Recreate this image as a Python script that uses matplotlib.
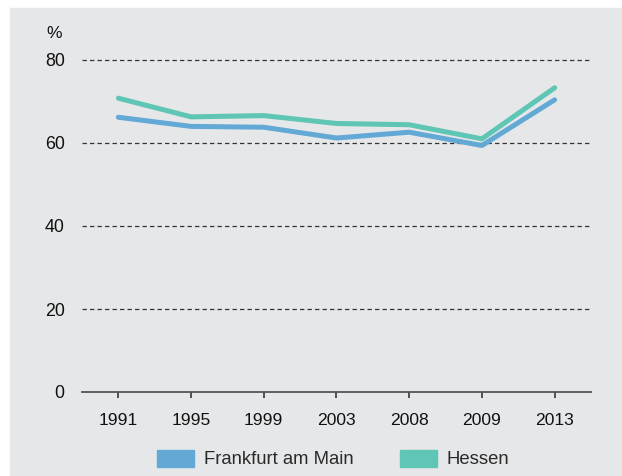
import matplotlib
matplotlib.use("Agg")
import matplotlib.pyplot as plt
import matplotlib.patches as mpatches
import numpy as np

years = ["1991", "1995", "1999", "2003", "2008", "2009", "2013"]
frankfurt = [66.2, 64.0, 63.8, 61.2, 62.6, 59.4, 70.4]
hessen = [70.8, 66.3, 66.6, 64.7, 64.4, 61.0, 73.3]
yticks = [0, 20, 40, 60, 80]

col_frankfurt = '#63a9d5'
col_hessen = '#5fc6b5'
bg = '#e6e7e9'
txt = '#111111'

plt.rcParams['font.family'] = ['Liberation Sans', 'DejaVu Sans']

W, H = 622, 476
fig = plt.figure(figsize=(W / 100, H / 100), dpi=100)
fig.patch.set_facecolor('white')
# grey panel, small white margin top/left
fig.patches.append(mpatches.Rectangle((10 / W, 0), 1 - 10 / W, 1 - 8 / H,
                                      transform=fig.transFigure, color=bg, zorder=-10))

ax = fig.add_axes([82 / W, 1 - 392 / H, (591 - 82) / W, (392 - 60) / H])
ax.set_facecolor('none')

x = np.arange(len(years))
ax.plot(x, hessen, color=col_hessen, lw=3.6, solid_capstyle='round', solid_joinstyle='round', zorder=3)
ax.plot(x, frankfurt, color=col_frankfurt, lw=3.6, solid_capstyle='round', solid_joinstyle='round', zorder=4)

ax.set_xlim(-0.5, len(years) - 0.5)
ax.set_ylim(0, 80)

for v in yticks[1:]:
    ax.axhline(v, color='#333333', lw=0.9, ls=(0, (3.5, 2.5)), zorder=1, clip_on=False)

for s in ['top', 'right', 'left']:
    ax.spines[s].set_visible(False)
ax.spines['bottom'].set_color('#555555')
ax.spines['bottom'].set_linewidth(1.3)

ax.set_xticks(x)
ax.set_xticklabels(years)
ax.set_yticks(yticks)
ax.tick_params(axis='x', length=4, width=1.3, color='#444444', pad=11, labelsize=12.6, labelcolor=txt)
ax.tick_params(axis='y', length=0, pad=12.5, labelsize=12.8, labelcolor=txt)

fig.text(54.5 / W, 1 - 34 / H, '%', fontsize=12.5, color=txt, ha='center', va='center')

patches = [mpatches.Patch(color=col_frankfurt, label='Frankfurt am Main'),
           mpatches.Patch(color=col_hessen, label='Hessen')]
fig.legend(handles=patches, loc='center', bbox_to_anchor=(333 / W, 1 - 459 / H), ncol=2,
           frameon=False, fontsize=13.3, handlelength=2.0, handleheight=1.05,
           handletextpad=0.55, columnspacing=2.5, labelcolor='#2a2a2a')

fig.savefig('out.png', dpi=100)
